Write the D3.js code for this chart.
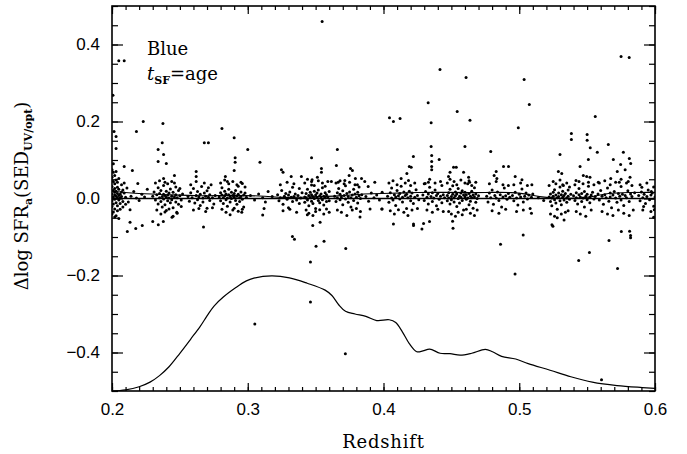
<!DOCTYPE html>
<html>
<head>
<meta charset="utf-8">
<script src="https://cdn.jsdelivr.net/npm/d3@7"></script>
<style>
  body { margin: 0; background: #fff; }
  svg { font-family: "DejaVu Serif", serif; }
  .tick line { stroke: #000; stroke-width: 1.2; }
  .tick text { font-size: 17px; fill: #000; }
</style>
</head>
<body>
<div id="chart"></div>
<script>
// axis ticks
const xMajor = [0.2, 0.3, 0.4, 0.5, 0.6];
const xLabels = ["0.2", "0.3", "0.4", "0.5", "0.6"];
const yMajor = [-0.4, -0.2, 0.0, 0.2, 0.4];
const yLabels = ["\u22120.4", "\u22120.2", "0.0", "0.2", "0.4"];

// scattered galaxies: [redshift, delta log SFR], dense band near zero
const bandPoints = [
  [0.200,0.012],[0.200,-0.006],[0.200,0.031],[0.200,0.055],[0.200,-0.021],[0.201,0.004],[0.201,0.021],[0.201,-0.014],
  [0.201,0.044],[0.201,0.068],[0.201,-0.035],[0.202,0.009],[0.202,-0.002],[0.202,0.026],[0.202,0.016],[0.202,-0.027],
  [0.202,0.038],[0.203,0.006],[0.203,-0.011],[0.203,0.019],[0.203,0.048],[0.203,-0.045],[0.204,0.002],[0.204,0.013],
  [0.204,-0.019],[0.204,0.029],[0.205,0.008],[0.205,-0.004],[0.205,0.024],[0.205,-0.052],[0.206,0.011],[0.206,0.001],
  [0.206,-0.013],[0.207,0.017],[0.207,0.005],[0.208,-0.008],[0.209,0.014],[0.210,0.003],[0.211,0.027],[0.212,-0.009],
  [0.214,0.006],[0.216,0.018],[0.218,0.001],[0.220,-0.005],[0.222,0.011],[0.224,0.004],[0.226,0.024],
  [0.230,0.006],[0.231,0.017],[0.232,-0.004],[0.233,0.010],[0.234,0.028],[0.234,-0.014],[0.235,0.002],[0.235,0.013],
  [0.236,-0.008],[0.236,0.021],[0.237,0.005],[0.237,-0.022],[0.238,0.011],[0.238,-0.001],[0.238,0.034],[0.239,0.008],
  [0.239,-0.016],[0.240,0.003],[0.240,0.019],[0.240,-0.031],[0.241,0.009],[0.241,-0.006],[0.242,0.014],[0.242,0.001],
  [0.243,-0.011],[0.243,0.025],[0.244,0.006],[0.244,-0.003],[0.245,0.016],[0.245,-0.024],[0.246,0.004],[0.246,0.040],
  [0.247,-0.009],[0.247,0.010],[0.248,0.002],[0.249,0.021],[0.249,-0.015],[0.250,0.007],[0.251,-0.004],[0.252,0.012],
  [0.256,0.005],[0.257,-0.007],[0.258,0.015],[0.259,0.002],[0.260,0.026],[0.261,-0.012],[0.262,0.008],[0.263,0.018],
  [0.263,-0.003],[0.264,0.004],[0.265,-0.018],[0.265,0.011],[0.266,0.031],[0.267,0.001],[0.267,-0.009],[0.268,0.014],
  [0.269,0.006],[0.270,-0.025],[0.270,0.020],[0.271,0.003],[0.272,-0.005],[0.272,0.010],[0.273,0.036],[0.274,0.002],
  [0.275,-0.014],[0.276,0.008],
  [0.279,0.004],[0.280,0.015],[0.280,-0.006],[0.281,0.009],[0.281,0.028],[0.282,-0.013],[0.282,0.002],[0.283,0.019],
  [0.283,0.007],[0.284,-0.003],[0.284,0.012],[0.285,0.001],[0.285,-0.020],[0.286,0.010],[0.286,0.024],[0.287,0.005],
  [0.287,-0.009],[0.288,0.016],[0.288,0.000],[0.289,0.008],[0.289,-0.030],[0.290,0.013],[0.290,0.003],[0.291,-0.005],
  [0.291,0.021],[0.292,0.006],[0.292,-0.015],[0.293,0.011],[0.293,0.032],[0.294,0.002],[0.294,-0.008],[0.295,0.017],
  [0.295,0.005],[0.296,-0.002],[0.297,0.009],[0.297,-0.022],[0.298,0.014],[0.299,0.003],
  [0.302,0.008],[0.305,-0.004],[0.308,0.012],[0.311,0.002],[0.313,-0.009],[0.315,0.018],[0.318,0.005],
  [0.322,0.010],[0.323,-0.006],[0.324,0.002],[0.325,0.021],[0.326,-0.015],[0.327,0.006],[0.328,0.013],[0.329,-0.002],
  [0.330,0.009],[0.330,-0.024],[0.331,0.017],[0.332,0.003],[0.333,-0.008],[0.333,0.029],[0.334,0.005],[0.335,0.012],
  [0.336,-0.004],[0.337,0.008],[0.338,-0.013],[0.339,0.001],[0.340,0.015],
  [0.342,0.004],[0.342,-0.010],[0.343,0.013],[0.343,0.001],[0.344,0.024],[0.344,-0.004],[0.345,0.008],[0.345,-0.019],
  [0.346,0.016],[0.346,0.002],[0.347,-0.007],[0.347,0.010],[0.347,0.035],[0.348,0.005],[0.348,-0.013],[0.349,0.019],
  [0.349,0.000],[0.350,0.009],[0.350,-0.026],[0.351,0.014],[0.351,0.003],[0.352,-0.005],[0.352,0.022],[0.353,0.007],
  [0.353,-0.011],[0.354,0.012],[0.354,0.001],[0.355,0.028],[0.355,-0.003],[0.356,0.006],[0.356,-0.017],[0.357,0.015],
  [0.357,0.002],[0.358,-0.008],[0.358,0.010],[0.359,0.004],[0.360,0.018],[0.360,-0.006],
  [0.364,0.006],[0.365,-0.008],[0.366,0.015],[0.366,0.001],[0.367,0.026],[0.368,-0.003],[0.368,0.011],[0.369,0.004],
  [0.370,-0.016],[0.370,0.020],[0.371,0.008],[0.372,-0.001],[0.372,0.033],[0.373,0.013],[0.374,-0.010],[0.374,0.005],
  [0.375,0.017],[0.376,0.002],[0.376,-0.022],[0.377,0.009],[0.378,0.024],[0.378,-0.005],[0.379,0.012],[0.380,0.003],
  [0.381,-0.012],[0.381,0.016],[0.382,0.007],[0.383,0.000],[0.384,0.010],
  [0.387,0.005],[0.389,-0.007],[0.391,0.014],[0.393,0.002],[0.395,0.009],[0.397,-0.004],[0.399,0.016],
  [0.403,0.006],[0.404,-0.010],[0.405,0.015],[0.406,0.001],[0.406,0.027],[0.407,-0.004],[0.408,0.010],[0.409,0.004],
  [0.409,-0.018],[0.410,0.021],[0.411,0.007],[0.412,-0.001],[0.412,0.013],[0.413,0.032],[0.414,0.003],[0.414,-0.009],
  [0.415,0.017],[0.416,0.008],[0.417,-0.026],[0.417,0.011],[0.418,0.002],[0.419,0.019],[0.420,-0.006],[0.420,0.006],
  [0.421,0.014],[0.422,-0.013],[0.423,0.003],[0.424,0.023],[0.425,0.008],[0.426,-0.003],
  [0.429,0.009],[0.430,-0.005],[0.431,0.018],[0.432,0.003],[0.433,-0.014],[0.433,0.012],[0.434,0.029],[0.435,0.005],
  [0.436,-0.008],[0.436,0.015],[0.437,0.001],[0.438,0.022],[0.439,-0.019],[0.439,0.008],[0.440,0.013],[0.441,-0.002],
  [0.442,0.006],[0.443,0.034],[0.443,-0.011],[0.444,0.010],[0.445,0.002],
  [0.447,0.008],[0.447,-0.006],[0.448,0.015],[0.448,0.001],[0.449,-0.014],[0.449,0.024],[0.450,0.005],[0.450,-0.003],
  [0.451,0.011],[0.451,0.033],[0.452,-0.009],[0.452,0.002],[0.453,0.017],[0.453,0.007],[0.454,-0.021],[0.454,0.012],
  [0.455,0.000],[0.455,0.026],[0.456,0.006],[0.456,-0.012],[0.457,0.014],[0.457,0.003],[0.458,-0.005],[0.458,0.020],
  [0.459,0.009],[0.459,-0.030],[0.460,0.004],[0.460,0.016],[0.461,-0.002],[0.461,0.010],[0.462,0.038],[0.462,0.001],
  [0.463,-0.016],[0.463,0.013],[0.464,0.006],[0.464,-0.007],[0.465,0.019],[0.465,0.002],[0.466,-0.025],[0.466,0.009],
  [0.467,0.004],[0.467,0.028],[0.468,-0.010],[0.468,0.012],[0.469,0.000],[0.470,0.007],
  [0.476,0.006],[0.477,-0.009],[0.478,0.014],[0.479,0.002],[0.480,0.022],[0.481,-0.015],[0.482,0.008],[0.483,0.001],
  [0.484,0.017],[0.485,-0.005],[0.486,0.010],[0.487,-0.022],[0.488,0.004],[0.489,0.027],[0.490,0.007],[0.491,-0.002],
  [0.492,0.013],[0.493,0.003],
  [0.495,0.008],[0.496,-0.006],[0.497,0.016],[0.498,0.001],[0.499,-0.017],[0.500,0.011],[0.501,0.004],[0.502,0.025],
  [0.503,-0.009],[0.504,0.006],[0.505,0.014],[0.506,-0.001],[0.507,0.009],[0.508,-0.026],[0.509,0.003],[0.510,0.012],
  [0.514,0.002],[0.518,-0.005],
  [0.522,0.004],[0.523,-0.008],[0.523,0.012],[0.524,0.001],[0.524,-0.019],[0.525,0.016],[0.525,0.006],[0.526,-0.003],
  [0.526,0.023],[0.527,0.009],[0.527,-0.012],[0.528,0.002],[0.528,-0.028],[0.529,0.014],[0.529,0.005],[0.530,-0.006],
  [0.530,0.030],[0.531,0.010],[0.531,-0.016],[0.532,0.003],[0.532,0.019],[0.533,-0.004],[0.533,0.008],[0.534,-0.036],
  [0.534,0.013],[0.535,0.001],[0.535,-0.010],[0.536,0.006],[0.536,0.022],[0.537,-0.002],[0.538,0.011],
  [0.540,0.007],[0.541,-0.005],[0.542,0.015],[0.542,0.002],[0.543,-0.014],[0.544,0.010],[0.544,0.026],[0.545,0.004],
  [0.546,-0.008],[0.546,0.013],[0.547,0.001],[0.548,-0.022],[0.548,0.018],[0.549,0.006],[0.550,-0.003],[0.550,0.011],
  [0.551,0.032],[0.552,0.003],[0.552,-0.011],[0.553,0.009],[0.554,0.016],[0.555,-0.001],[0.556,0.005],
  [0.558,0.012],[0.559,-0.004],[0.560,0.021],[0.561,0.006],[0.562,-0.015],[0.563,0.010],[0.564,0.002],[0.565,0.027],
  [0.566,-0.007],[0.567,0.014],[0.567,0.004],[0.568,-0.024],[0.569,0.009],[0.570,0.018],[0.571,0.001],[0.572,-0.010],
  [0.573,0.013],[0.574,0.006],[0.575,0.031],[0.575,-0.004],[0.576,0.011],[0.577,-0.018],[0.578,0.008],[0.579,0.002],
  [0.580,0.020],[0.581,-0.008],[0.582,0.012],[0.583,0.005],[0.584,-0.030],[0.585,0.015],
  [0.588,0.008],[0.589,-0.006],[0.590,0.017],[0.591,0.002],[0.592,0.011],[0.593,-0.013],[0.594,0.005],[0.595,0.022],
  [0.596,-0.003],[0.597,0.009],[0.598,0.014],[0.599,-0.020],[0.600,0.004]
];

// wider wings of the band clusters
const bandWings = [
  [0.200,0.075],[0.200,-0.040],[0.201,0.090],[0.202,-0.048],[0.202,0.060],[0.203,0.070],[0.204,-0.032],[0.204,0.042],
  [0.205,0.052],[0.206,-0.028],[0.207,0.036],[0.208,0.022],[0.208,-0.022],[0.209,0.040],[0.210,-0.015],
  [0.232,0.040],[0.233,-0.030],[0.235,0.046],[0.236,-0.040],[0.238,0.052],[0.239,-0.035],[0.241,0.038],[0.242,-0.027],
  [0.244,0.044],[0.245,-0.046],[0.247,0.030],[0.248,-0.038],[0.250,0.026],[0.251,-0.021],
  [0.258,0.036],[0.260,-0.030],[0.262,0.044],[0.264,-0.026],[0.268,0.040],[0.269,-0.034],[0.271,0.028],[0.274,-0.024],
  [0.280,0.040],[0.281,-0.028],[0.283,0.048],[0.284,-0.036],[0.286,0.038],[0.287,-0.042],[0.289,0.044],[0.290,-0.025],
  [0.292,0.036],[0.293,-0.033],[0.295,0.042],[0.296,-0.028],[0.298,0.030],
  [0.324,0.036],[0.326,-0.032],[0.329,0.042],[0.331,-0.028],[0.334,0.038],[0.336,-0.036],[0.338,0.026],
  [0.342,0.040],[0.343,-0.030],[0.344,0.050],[0.345,-0.038],[0.347,0.044],[0.348,-0.044],[0.349,0.034],[0.350,-0.034],
  [0.352,0.046],[0.353,-0.029],[0.355,0.040],[0.356,-0.040],[0.357,0.032],[0.358,-0.027],[0.359,0.044],[0.360,-0.036],
  [0.365,0.040],[0.366,-0.030],[0.368,0.046],[0.369,-0.036],[0.371,0.038],[0.373,-0.044],[0.375,0.042],[0.377,-0.030],
  [0.379,0.036],[0.380,-0.026],[0.382,0.030],[0.383,-0.034],
  [0.404,0.040],[0.405,-0.032],[0.407,0.046],[0.408,-0.040],[0.410,0.036],[0.411,-0.029],[0.413,0.052],[0.415,-0.036],
  [0.416,0.040],[0.418,-0.044],[0.420,0.034],[0.421,-0.030],[0.423,0.040],[0.425,-0.026],
  [0.430,0.038],[0.432,-0.030],[0.434,0.050],[0.436,-0.036],[0.438,0.040],[0.440,-0.028],[0.442,0.044],[0.444,-0.034],
  [0.447,0.040],[0.448,-0.034],[0.449,0.050],[0.450,-0.040],[0.452,0.044],[0.453,-0.046],[0.454,0.036],[0.455,-0.036],
  [0.457,0.048],[0.458,-0.042],[0.460,0.040],[0.461,-0.028],[0.463,0.046],[0.464,-0.038],[0.465,0.034],[0.467,-0.044],
  [0.468,0.042],[0.469,-0.030],
  [0.478,0.038],[0.480,-0.032],[0.483,0.044],[0.485,-0.038],[0.488,0.036],[0.490,-0.028],[0.492,0.034],
  [0.496,0.036],[0.498,-0.034],[0.501,0.040],[0.503,-0.030],[0.506,0.034],[0.509,-0.038],
  [0.522,0.034],[0.523,-0.040],[0.525,0.044],[0.526,-0.046],[0.527,0.038],[0.528,-0.050],[0.530,0.048],[0.531,-0.040],
  [0.532,0.036],[0.533,-0.056],[0.535,0.040],[0.536,-0.032],[0.537,0.030],
  [0.541,0.036],[0.542,-0.034],[0.544,0.044],[0.545,-0.040],[0.547,0.038],[0.549,-0.046],[0.551,0.042],[0.553,-0.030],
  [0.555,0.036],
  [0.559,0.040],[0.561,-0.034],[0.563,0.046],[0.565,-0.040],[0.567,0.036],[0.569,-0.044],[0.571,0.042],[0.573,-0.030],
  [0.575,0.050],[0.577,-0.038],[0.579,0.040],[0.581,-0.044],[0.583,0.034],
  [0.589,0.036],[0.591,-0.030],[0.594,0.040],[0.597,-0.034],[0.599,0.030]
];

// outliers above and below the band
const outlierPoints = [
  [0.2007,0.268],[0.205,0.358],[0.209,0.358],[0.2015,0.174],[0.203,0.161],[0.203,0.130],[0.209,0.083],[0.215,0.073],
  [0.218,0.174],[0.219,0.039],[0.223,0.200],[0.237,0.145],[0.2375,0.195],[0.234,0.127],[0.238,0.114],[0.234,0.096],
  [0.240,0.091],[0.246,0.060],[0.239,0.042],[0.262,0.070],[0.262,0.057],[0.268,0.145],[0.271,0.145],[0.281,0.182],
  [0.290,0.158],[0.2907,0.106],[0.2907,0.094],[0.290,0.073],[0.300,0.127],[0.309,0.094],[0.2835,0.057],[0.285,0.044],
  [0.296,0.039],[0.3248,0.075],[0.326,0.068],[0.332,0.057],[0.3395,0.057],[0.347,0.106],[0.3474,0.049],[0.3543,0.078],
  [0.3543,0.068],[0.3513,0.055],[0.3548,0.460],[0.366,0.127],[0.3653,0.086],[0.3616,0.044],[0.3666,0.042],[0.3757,0.078],
  [0.3771,0.073],[0.3715,0.047],[0.3793,0.052],[0.3838,0.052],[0.3862,0.044],[0.3887,0.031],[0.3936,0.042],[0.3808,0.036],
  [0.3747,0.060],[0.4044,0.210],[0.4073,0.200],[0.4122,0.208],[0.4329,0.249],[0.4351,0.197],[0.4543,0.226],[0.4637,0.203],
  [0.5074,0.244],[0.4993,0.184],[0.556,0.213],[0.5384,0.169],[0.5384,0.153],[0.550,0.166],[0.550,0.151],[0.5523,0.132],
  [0.5656,0.140],[0.5575,0.120],[0.460,0.135],[0.479,0.122],[0.4351,0.135],[0.4416,0.335],[0.4608,0.314],[0.5036,0.309],
  [0.5750,0.369],[0.581,0.366],
  [0.4355,0.112],[0.4355,0.096],[0.4355,0.083],[0.4355,0.075],[0.441,0.101],[0.422,0.109],[0.419,0.083],[0.4204,0.081],
  [0.4172,0.065],[0.4184,0.047],[0.4307,0.039],[0.4331,0.042],[0.449,0.068],[0.4516,0.081],[0.4536,0.081],[0.4479,0.057],
  [0.459,0.068],[0.4627,0.055],[0.4634,0.042],[0.4884,0.083],[0.4921,0.083],[0.483,0.070],[0.4815,0.060],[0.4835,0.052],
  [0.497,0.057],[0.502,0.049],[0.5093,0.036],[0.530,0.114],[0.5288,0.070],[0.5313,0.065],[0.5325,0.034],[0.5448,0.083],
  [0.5472,0.060],[0.5497,0.057],[0.5521,0.055],[0.5509,0.101],[0.5418,0.047],[0.5582,0.042],[0.5693,0.101],[0.5722,0.070],
  [0.5767,0.120],[0.5747,0.088],[0.578,0.075],[0.5811,0.104],[0.5821,0.091],[0.5816,0.055],[0.5803,0.044],[0.5674,0.052],
  [0.5737,0.042],[0.5903,0.029],[0.5973,0.018],[0.5995,-0.029],[0.5916,-0.021],
  [0.2133,-0.029],[0.2133,-0.062],[0.2113,-0.086],[0.2175,-0.078],[0.2223,-0.070],[0.230,-0.060],[0.2341,-0.068],
  [0.2378,-0.060],[0.2442,-0.049],[0.2477,-0.036],[0.2674,-0.074],[0.311,-0.043],[0.312,-0.026],[0.2956,-0.036],
  [0.3329,-0.099],[0.3344,-0.106],[0.3479,-0.070],[0.3533,-0.062],[0.3503,-0.124],[0.3562,-0.111],[0.3722,-0.130],
  [0.3439,-0.042],[0.3827,-0.048],[0.3901,-0.027],[0.399,-0.027],[0.4073,-0.066],[0.4221,-0.066],[0.4221,-0.070],
  [0.4283,-0.079],[0.4295,-0.065],[0.4339,-0.060],[0.4509,-0.059],[0.4512,-0.077],[0.4862,-0.119],[0.5029,-0.095],
  [0.5241,-0.068],[0.5248,-0.072],[0.5661,-0.109],[0.5752,-0.086],[0.5813,-0.085],[0.582,-0.096],[0.582,-0.102],
  [0.599,-0.049],[0.3987,-0.027],
  [0.3052,-0.326],[0.3462,-0.165],[0.3462,-0.269],[0.3719,-0.403],[0.4969,-0.196],[0.5438,-0.161],[0.5517,-0.140],
  [0.5724,-0.182],[0.5606,-0.471]
];

// running mean of the offsets
const meanZ = [0.200,0.215,0.240,0.265,0.290,0.315,0.325,0.345,0.368,0.385,0.405,0.425,0.445,0.465,0.480,0.495,0.505,0.515,0.525,0.545,0.555,0.565,0.580,0.600];
const meanY = [0.019,0.013,0.010,0.006,0.009,0.006,0.002,0.004,0.006,0.013,0.013,0.016,0.016,0.015,0.016,0.016,0.012,0.004,0.001,0.000,0.005,0.014,0.016,0.016];

// redshift distribution of the sample (arbitrary units, drawn at the bottom)
const distZ = [0.200,0.210,0.220,0.228,0.235,0.242,0.250,0.258,0.265,0.270,0.275,0.282,0.291,0.299,0.3045,0.3176,0.3307,0.3438,0.357,0.362,0.367,0.372,0.379,0.387,0.395,0.4042,0.409,0.414,0.419,0.4245,0.429,0.434,0.4417,0.449,0.4565,0.465,0.475,0.4803,0.487,0.4974,0.5066,0.5227,0.538,0.5538,0.572,0.5906,0.600];
const distY = [-0.500,-0.497,-0.489,-0.477,-0.460,-0.437,-0.402,-0.365,-0.332,-0.305,-0.280,-0.256,-0.232,-0.214,-0.207,-0.201,-0.206,-0.220,-0.238,-0.252,-0.276,-0.293,-0.300,-0.306,-0.317,-0.315,-0.322,-0.347,-0.377,-0.398,-0.396,-0.391,-0.402,-0.403,-0.407,-0.402,-0.392,-0.398,-0.410,-0.417,-0.429,-0.446,-0.463,-0.477,-0.486,-0.491,-0.493];

const margin = { top: 6, right: 32, bottom: 63, left: 112 };
const width = 687 - margin.left - margin.right;
const height = 454 - margin.top - margin.bottom;

const svg = d3.select("#chart").append("svg")
  .attr("width", 687)
  .attr("height", 454);
const g = svg.append("g")
  .attr("transform", `translate(${margin.left},${margin.top})`);

const x = d3.scaleLinear().domain([0.2, 0.6]).range([0, width]);
const y = d3.scaleLinear().domain([-0.5, 0.5]).range([height, 0]);

g.append("clipPath").attr("id", "clip")
  .append("rect").attr("width", width).attr("height", height);

// minor ticks
const xMinor = d3.range(0, 41).map(i => 0.2 + i * 0.01);
const yMinor = d3.range(0, 21).map(i => -0.5 + i * 0.05);

function drawAxis(axis, tr) {
  const a = g.append("g").attr("transform", tr).call(axis);
  a.select(".domain").remove();
  return a;
}

drawAxis(d3.axisBottom(x).tickValues(xMinor).tickSize(-4).tickFormat(""), `translate(0,${height})`);
drawAxis(d3.axisTop(x).tickValues(xMinor).tickSize(-4).tickFormat(""), "translate(0,0)");
drawAxis(d3.axisBottom(x).tickValues(xMajor).tickSize(-8).tickPadding(12)
  .tickFormat((d, i) => xLabels[i]), `translate(0,${height})`);
drawAxis(d3.axisTop(x).tickValues(xMajor).tickSize(-8).tickFormat(""), "translate(0,0)");

drawAxis(d3.axisLeft(y).tickValues(yMinor).tickSize(-6).tickFormat(""), "translate(0,0)");
drawAxis(d3.axisRight(y).tickValues(yMinor).tickSize(-6).tickFormat(""), `translate(${width},0)`);
drawAxis(d3.axisLeft(y).tickValues(yMajor).tickSize(-11).tickPadding(12)
  .tickFormat((d, i) => yLabels[i]), "translate(0,0)");
drawAxis(d3.axisRight(y).tickValues(yMajor).tickSize(-11).tickFormat(""), `translate(${width},0)`);

// frame
g.append("rect")
  .attr("width", width)
  .attr("height", height)
  .attr("fill", "none")
  .attr("stroke", "#000")
  .attr("stroke-width", 1.6);

const plot = g.append("g").attr("clip-path", "url(#clip)");

// zero line and running mean
plot.append("path")
  .datum(xMajor)
  .attr("fill", "none")
  .attr("stroke", "#000")
  .attr("stroke-width", 1.3)
  .attr("d", d3.line().x(d => x(d)).y(() => y(0)));

plot.append("path")
  .datum(meanZ.map((z, i) => [z, meanY[i]]))
  .attr("fill", "none")
  .attr("stroke", "#000")
  .attr("stroke-width", 1.1)
  .attr("d", d3.line().x(d => x(d[0])).y(d => y(d[1])).curve(d3.curveBasis));

// points
plot.selectAll(".pt")
  .data(bandPoints.concat(bandWings, outlierPoints))
  .enter().append("circle")
  .attr("class", "pt")
  .attr("cx", d => x(d[0]))
  .attr("cy", d => y(d[1]))
  .attr("r", 1.5)
  .attr("fill", "#000");

// redshift distribution
plot.append("path")
  .datum(distZ.map((z, i) => [z, distY[i]]))
  .attr("fill", "none")
  .attr("stroke", "#000")
  .attr("stroke-width", 1.2)
  .attr("d", d3.line().x(d => x(d[0])).y(d => y(d[1])).curve(d3.curveCatmullRom));

// annotations
g.append("text")
  .attr("x", 35)
  .attr("y", 49)
  .attr("font-size", 18)
  .text("Blue");

const tsf = g.append("text")
  .attr("x", 35)
  .attr("y", 74)
  .attr("font-size", 18);
tsf.append("tspan").attr("font-style", "italic").text("t");
tsf.append("tspan").attr("font-size", 11).attr("font-weight", "bold").attr("dy", 4).text("SF");
tsf.append("tspan").attr("dy", -4).text("=age");

// axis titles
svg.append("text")
  .attr("x", margin.left + width / 2)
  .attr("y", 448)
  .attr("text-anchor", "middle")
  .attr("font-size", 18)
  .attr("letter-spacing", 0.8)
  .text("Redshift");

const yt = svg.append("text")
  .attr("transform", "translate(28,196) rotate(-90)")
  .attr("text-anchor", "middle")
  .attr("font-size", 18);
yt.append("tspan").text("\u0394log SFR");
yt.append("tspan").attr("font-size", 11).attr("font-weight", "bold").attr("dy", 4).text("a");
yt.append("tspan").attr("dy", -4).text("(SED");
yt.append("tspan").attr("font-size", 11).attr("font-weight", "bold").attr("dy", 4).text("UV/opt");
yt.append("tspan").attr("dy", -4).text(")");
</script>
</body>
</html>
